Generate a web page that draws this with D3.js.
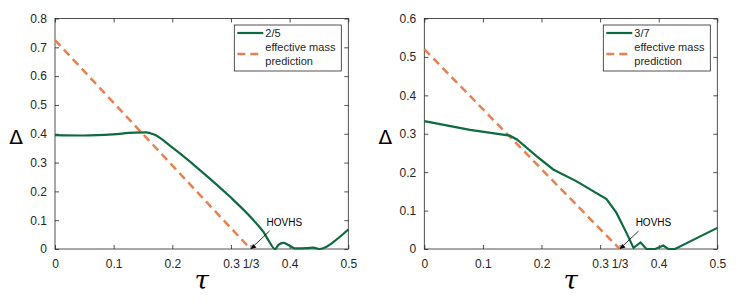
<html>
<head>
<meta charset="UTF-8">
<script src="https://d3js.org/d3.v7.min.js"></script>
<style>
  body { margin: 0; background: #fff; font-family: "Liberation Sans", Arial, sans-serif; }
  svg text { fill: #262626; }
</style>
</head>
<body>
<svg width="747" height="302"></svg>
<script>
// panel 1: filling 2/5
const tau25 = [0, 0.048, 0.099, 0.134, 0.156, 0.168, 0.202, 0.247, 0.298, 0.338, 0.355, 0.366, 0.375, 0.381, 0.389, 0.398, 0.409, 0.429, 0.440, 0.4506, 0.463, 0.480, 0.5];
const gap25 = [0.395, 0.394, 0.398, 0.404, 0.405, 0.398, 0.349, 0.274, 0.182, 0.101, 0.060, 0.023, 0.0, 0.014, 0.021, 0.014, 0.002, 0.003, 0.005, 0.0, 0.008, 0.033, 0.068];
const pred25 = [[0, 0.725], [1 / 3, 0]];

// panel 2: filling 3/7
const tau37 = [0, 0.078, 0.146, 0.158, 0.192, 0.220, 0.260, 0.311, 0.328, 0.345, 0.357, 0.369, 0.379, 0.394, 0.408, 0.416, 0.428, 0.5];
const gap37 = [0.333, 0.310, 0.295, 0.285, 0.241, 0.207, 0.176, 0.130, 0.094, 0.042, 0.003, 0.017, 0.0, 0.0, 0.009, 0.0, 0.0, 0.055];
const pred37 = [[0, 0.52], [1 / 3, 0]];

const xTicks = [0, 0.1, 0.2, 0.3, 1 / 3, 0.4, 0.5];
const xTickLabels = ["0", "0.1", "0.2", "0.3", "1/3", "0.4", "0.5"];
const yTicks25 = [0, 0.1, 0.2, 0.3, 0.4, 0.5, 0.6, 0.7, 0.8];
const yTicks37 = [0, 0.1, 0.2, 0.3, 0.4, 0.5, 0.6];

const green = "#0e6b3f";
const orange = "#e8804f";
const svg = d3.select("svg");

function panel(left, right, ymax, yTicks, tau, gap, pred, name, curve) {
  const top = 18.5, bottom = 249;
  const x = d3.scaleLinear().domain([0, 0.5]).range([left, right]);
  const y = d3.scaleLinear().domain([0, ymax]).range([bottom, top]);
  const g = svg.append("g");

  // box
  g.append("rect")
    .attr("x", left).attr("y", top)
    .attr("width", right - left).attr("height", bottom - top)
    .attr("fill", "none").attr("stroke", "#262626").attr("stroke-width", 0.8);

  // axes with inward ticks
  const fmt = (d) => xTickLabels[xTicks.indexOf(d)];
  g.append("g").attr("transform", `translate(0,${bottom})`)
    .call(d3.axisBottom(x).tickValues(xTicks).tickFormat(fmt).tickSizeInner(-4).tickSizeOuter(0).tickPadding(10));
  g.append("g").attr("transform", `translate(0,${top})`)
    .call(d3.axisTop(x).tickValues(xTicks.filter((d) => d !== 1 / 3)).tickFormat("").tickSizeInner(-4).tickSizeOuter(0));
  g.append("g").attr("transform", `translate(${left},0)`)
    .call(d3.axisLeft(y).tickValues(yTicks).tickFormat((d) => d3.format("")(+d.toFixed(1))).tickSizeInner(-4).tickSizeOuter(0).tickPadding(8));
  g.append("g").attr("transform", `translate(${right},0)`)
    .call(d3.axisRight(y).tickValues(yTicks).tickFormat("").tickSizeInner(-4).tickSizeOuter(0));
  g.selectAll(".domain").remove();
  g.selectAll(".tick line").attr("stroke", "#262626").attr("stroke-width", 0.8);
  g.selectAll(".tick text").attr("font-size", 12).attr("font-family", "Liberation Sans, Arial, sans-serif").attr("fill", "#262626");

  // dashed prediction
  g.append("path")
    .attr("d", d3.line().x((d) => x(d[0])).y((d) => y(d[1]))(pred))
    .attr("fill", "none").attr("stroke", orange).attr("stroke-width", 2.5)
    .attr("stroke-dasharray", "8 5");

  // gap curve
  g.append("path")
    .datum(tau.map((t, i) => [t, gap[i]]))
    .attr("d", d3.line().x((d) => x(d[0])).y((d) => y(d[1])).curve(curve))
    .attr("fill", "none").attr("stroke", green).attr("stroke-width", 2.2);

  // HOVHS annotation
  const ax = x(1 / 3), ay = y(0);
  g.append("line")
    .attr("x1", ax + 19).attr("y1", ay - 18)
    .attr("x2", ax + 1).attr("y2", ay - 1)
    .attr("stroke", "#000").attr("stroke-width", 0.8);
  g.append("path")
    .attr("d", `M${ax},${ay} l6,-1.5 l-3.5,-3.5 z`)
    .attr("fill", "#000");
  g.append("text")
    .attr("x", ax + 16).attr("y", ay - 23)
    .attr("font-size", 10).style("fill", "#000")
    .text("HOVHS");

  // axis labels
  g.append("text")
    .attr("x", left - 39).attr("y", 144)
    .attr("font-size", 20).attr("font-family", "DejaVu Sans, sans-serif")
    .attr("text-anchor", "middle").style("fill", "#000")
    .text("Δ");
  g.append("text")
    .attr("x", x(0.25)).attr("y", 289)
    .attr("font-size", 26).attr("font-style", "italic").attr("font-family", "DejaVu Serif, serif")
    .attr("text-anchor", "middle").style("fill", "#000")
    .text("τ");

  // legend
  const lx = right - 114, ly = 25;
  g.append("rect")
    .attr("x", lx).attr("y", ly).attr("width", 107).attr("height", 46)
    .attr("fill", "#fff").attr("stroke", "#262626").attr("stroke-width", 0.8);
  g.append("line")
    .attr("x1", lx + 3).attr("x2", lx + 29).attr("y1", ly + 8).attr("y2", ly + 8)
    .attr("stroke", green).attr("stroke-width", 2.2);
  g.append("line")
    .attr("x1", lx + 3).attr("x2", lx + 29).attr("y1", ly + 29).attr("y2", ly + 29)
    .attr("stroke", orange).attr("stroke-width", 2.5).attr("stroke-dasharray", "8 5");
  g.append("text").attr("x", lx + 31).attr("y", ly + 12).attr("font-size", 11).text(name);
  g.append("text").attr("x", lx + 31).attr("y", ly + 26).attr("font-size", 11).text("effective mass");
  g.append("text").attr("x", lx + 31).attr("y", ly + 40).attr("font-size", 11).text("prediction");
}

panel(55, 348.3, 0.8, yTicks25, tau25, gap25, pred25, "2/5", d3.curveMonotoneX);
panel(424.3, 717.3, 0.6, yTicks37, tau37, gap37, pred37, "3/7", d3.curveLinear);
</script>
</body>
</html>
